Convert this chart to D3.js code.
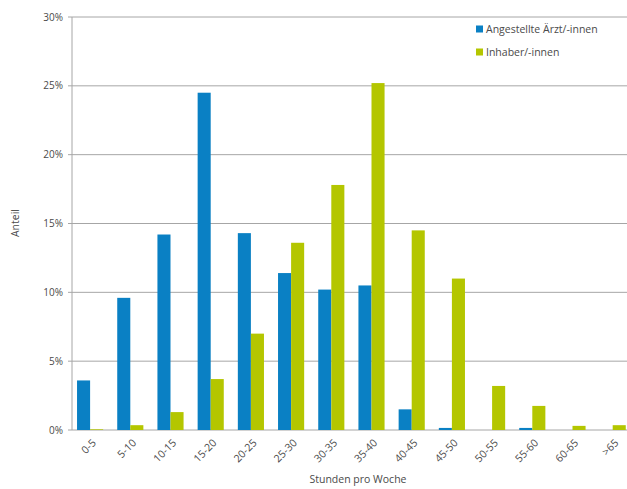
<!DOCTYPE html>
<html>
<head>
<meta charset="utf-8">
<script src="https://cdn.jsdelivr.net/npm/d3@7"></script>
<style>
  body { margin: 0; background: #fff; }
  text { font-family: "Open Sans", sans-serif; fill: #4a4a4a; }
</style>
</head>
<body>
<script>
let width = 627;
let height = 489;

let categories = ["0-5", "5-10", "10-15", "15-20", "20-25", "25-30", "30-35",
    "35-40", "40-45", "45-50", "50-55", "55-60", "60-65", ">65"];
let angestellte = [3.6, 9.6, 14.2, 24.5, 14.3, 11.4, 10.2, 10.5, 1.5, 0.15, 0, 0.15, 0, 0];
let inhaber = [0.05, 0.35, 1.3, 3.7, 7.0, 13.6, 17.8, 25.2, 14.5, 11.0, 3.2, 1.75, 0.3, 0.35];
let yTicks = [0, 5, 10, 15, 20, 25, 30];
let seriesNames = ["Angestellte Ärzt/-innen", "Inhaber/-innen"];
let colors = ["#0a80c4", "#b4c600"];

let plotLeft = 72, plotTop = 17, plotBottom = 430;
let bandW = 40.2;

let svg = d3.select("body").append("svg")
    .attr("width", width)
    .attr("height", height);

let x = d3.scaleBand()
    .domain(categories)
    .range([plotLeft - 2, plotLeft - 2 + bandW * categories.length])
    .paddingInner(0.35)
    .paddingOuter(0.175);

let x1 = d3.scaleBand()
    .domain([0, 1])
    .range([0, x.bandwidth()]);

let y = d3.scaleLinear()
    .domain([0, 30])
    .range([plotBottom, plotTop]);

// grid lines
svg.append("g")
    .selectAll("line")
    .data(yTicks)
    .enter()
    .append("line")
    .attr("x1", plotLeft - 4)
    .attr("x2", width)
    .attr("y1", d => y(d))
    .attr("y2", d => y(d))
    .style("stroke", "#a6a6a6")
    .style("stroke-width", 1);

// y axis line
svg.append("line")
    .attr("x1", plotLeft).attr("x2", plotLeft)
    .attr("y1", plotTop).attr("y2", plotBottom)
    .style("stroke", "#a6a6a6");

// y tick labels
svg.append("g")
    .selectAll("text")
    .data(yTicks)
    .enter()
    .append("text")
    .attr("x", plotLeft - 9)
    .attr("y", d => y(d))
    .attr("dy", "0.35em")
    .attr("text-anchor", "end")
    .style("font-size", "10px")
    .text(d => d + "%");

// bars
let series = [angestellte, inhaber];
series.forEach((values, s) => {
    svg.append("g")
        .selectAll("rect")
        .data(values)
        .enter()
        .append("rect")
        .attr("x", (d, i) => x(categories[i]) + x1(s))
        .attr("y", d => y(d))
        .attr("width", x1.bandwidth())
        .attr("height", d => plotBottom - y(d))
        .style("fill", colors[s]);
});

// x tick labels
svg.append("g")
    .selectAll("text")
    .data(categories)
    .enter()
    .append("text")
    .attr("transform", d => "translate(" + (x(d) + x.bandwidth() / 2 + 4) + "," + (plotBottom + 11) + ") rotate(-45)")
    .attr("text-anchor", "end")
    .attr("dy", "0.35em")
    .style("font-size", "10.5px")
    .text(d => d);

// axis titles
svg.append("text")
    .attr("x", 358)
    .attr("y", 483)
    .attr("text-anchor", "middle")
    .style("font-size", "10.5px")
    .text("Stunden pro Woche");

svg.append("text")
    .attr("transform", "translate(19,223) rotate(-90)")
    .attr("text-anchor", "middle")
    .style("font-size", "10.5px")
    .text("Anteil");

// legend
let legend = svg.append("g")
    .selectAll("g")
    .data(seriesNames)
    .enter()
    .append("g")
    .attr("transform", (d, i) => "translate(476," + (29 + i * 23) + ")");

legend.append("rect")
    .attr("x", 0).attr("y", -3.5)
    .attr("width", 7).attr("height", 7)
    .style("fill", (d, i) => colors[i]);

legend.append("text")
    .attr("x", 10)
    .attr("dy", "0.35em")
    .style("font-size", "10.5px")
    .text(d => d);
</script>
</body>
</html>
